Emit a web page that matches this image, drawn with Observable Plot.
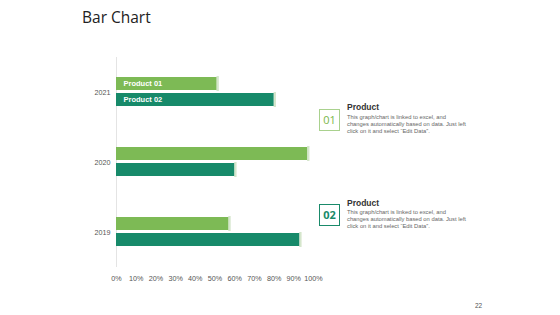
<!DOCTYPE html>
<html>
<head>
<meta charset="utf-8">
<script src="https://cdn.jsdelivr.net/npm/d3@7"></script>
<script src="https://cdn.jsdelivr.net/npm/@observablehq/plot@0.6"></script>
<style>
  body { margin: 0; background: #fff; }
  #wrap { position: relative; width: 560px; height: 315px; overflow: hidden; font-family: "Liberation Sans", Arial, sans-serif; }
  #chart { position: absolute; left: 0; top: 0; }
  .title { position: absolute; left: 82px; top: 6px; font-family: "Open Sans", sans-serif; font-size: 15.5px; color: #222; }
  .page { position: absolute; left: 475px; top: 302px; font-size: 6.5px; color: #555; }
  .box { position: absolute; left: 319px; width: 19px; height: 20px; border: 1px solid; font-size: 11px; line-height: 20px; text-align: center; font-family: "Open Sans", sans-serif; }
  .head { position: absolute; left: 347px; font-size: 8.5px; font-weight: bold; color: #333; }
  .desc { position: absolute; left: 347px; white-space: nowrap; font-size: 5.8px; line-height: 7px; color: #666; }
</style>
</head>
<body>
<div id="wrap">
  <div id="chart"></div>
  <div class="title">Bar Chart</div>
  <div class="box" style="top:109px;border-color:#a9d18e;color:#7ab648;">01</div>
  <div class="head" style="top:102px;">Product</div>
  <div class="desc" style="top:114px;">This graph/chart is linked to excel, and<br>changes automatically based on data. Just left<br>click on it and select “Edit Data”.</div>
  <div class="box" style="top:204px;border-color:#1a8a6a;color:#1a8a6a;font-weight:bold;">02</div>
  <div class="head" style="top:198px;">Product</div>
  <div class="desc" style="top:209px;">This graph/chart is linked to excel, and<br>changes automatically based on data. Just left<br>click on it and select “Edit Data”.</div>
  <div class="page">22</div>
</div>
<script>
const years = ["2021", "2020", "2019"];
const products = ["Product 01", "Product 02"];
const product01 = [51, 97, 57];
const product02 = [80, 60, 93];
const xTicks = [0, 10, 20, 30, 40, 50, 60, 70, 80, 90, 100];
const colors = ["#7dba55", "#178a6a"];

const data = years.flatMap((y, i) => [
  {year: y, product: products[0], value: product01[i]},
  {year: y, product: products[1], value: product02[i]}
]);
const labelled = data.filter(d => d.year === years[0]);

const chart = Plot.plot({
  width: 560,
  height: 315,
  marginLeft: 116,
  marginRight: 247,
  marginTop: 56,
  marginBottom: 48,
  style: {fontSize: "7.2px", color: "#555", fontFamily: "Liberation Sans, Arial, sans-serif", background: "transparent"},
  x: {domain: [0, 100], ticks: xTicks, tickFormat: d => d + "%", tickSize: 0, tickPadding: 8, label: null},
  y: {domain: products, paddingInner: 0.18, paddingOuter: 1.15, axis: null},
  fy: {domain: years, padding: 0, tickSize: 0, tickPadding: 6, label: null},
  color: {domain: products, range: colors},
  marks: [
    Plot.ruleX([0], {stroke: "#e4e4e4"}),
    Plot.barX(data, {x1: "value", x2: d => d.value + 1.2, y: "product", fy: "year", fill: "#d5e6cc", insetTop: -1, insetBottom: -1}),
    Plot.barX(data, {x: "value", y: "product", fy: "year", fill: "product"}),
    Plot.text(labelled, {x: 0, y: "product", fy: "year", text: "product", dx: 7, textAnchor: "start", fill: "white", fontSize: 7.5, fontWeight: 600})
  ]
});
document.getElementById("chart").appendChild(chart);
</script>
</body>
</html>
